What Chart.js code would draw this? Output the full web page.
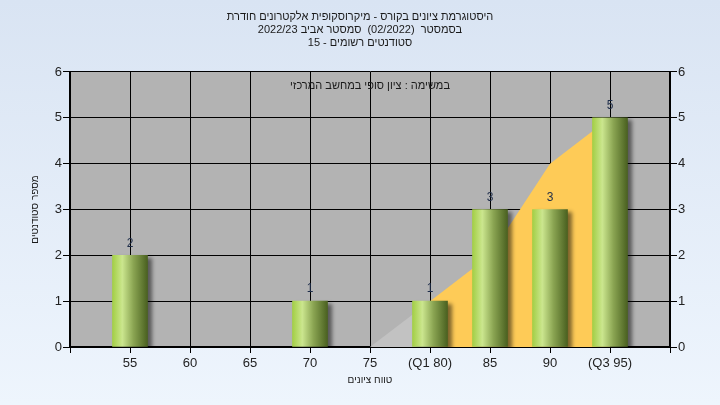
<!DOCTYPE html>
<html>
<head>
<meta charset="utf-8">
<script src="https://cdn.jsdelivr.net/npm/chart.js@4/dist/chart.umd.min.js"></script>
<style>
  html, body { margin: 0; padding: 0; background: #e6eef8; }
  #wrap { width: 720px; height: 405px; position: relative; }
</style>
</head>
<body>
<div id="wrap"><canvas id="c" width="720" height="405"></canvas></div>
<script>
// ---- data ----
const categories = ['', '55', '60', '65', '70', '75', '(Q1 80)', '85', '90', '(Q3 95)', ''];
const studentCounts = [null, 2, 0, 0, 1, 0, 1, 3, 3, 5, null];
const areaBeforeQ1 = [null, null, null, null, null, 0, 1, null, null, null, null];
const areaQ1toQ3 = [null, null, null, null, null, null, 1, 2, 4, 5, null];
const yTicks = [0, 1, 2, 3, 4, 5, 6];
const titleLines = [
  'היסטוגרמת ציונים בקורס - מיקרוסקופית אלקטרונים חודרת',
  'בסמסטר  (02/2022)  סמסטר אביב 2022/23',
  'סטודנטים רשומים - 15'
];
const plotNote = 'במשימה : ציון סופי במחשב המרכזי';
const xTitle = 'טווח ציונים';
const yTitle = 'מספר סטודנטים';

const FONT = '"Liberation Sans", Arial, sans-serif';
const BAR_W = 35;

const bgPlugin = {
  id: 'bg',
  beforeDraw(chart) {
    const { ctx, width, height, chartArea: a } = chart;
    ctx.save();
    const g = ctx.createLinearGradient(0, 0, 0, height);
    g.addColorStop(0, '#d9e4f3');
    g.addColorStop(1, '#eef5fd');
    ctx.fillStyle = g;
    ctx.fillRect(0, 0, width, height);
    ctx.fillStyle = '#b3b3b3';
    ctx.fillRect(a.left, a.top, a.right - a.left, a.bottom - a.top);
    ctx.restore();
  }
};

const shadowPlugin = {
  id: 'barShadow',
  beforeDatasetDraw(chart, args) {
    if (args.meta.type !== 'bar') return;
    const ctx = chart.ctx;
    ctx.save();
    ctx.shadowColor = 'rgba(0,0,0,0.5)';
    ctx.shadowBlur = 4;
    ctx.shadowOffsetX = 4;
    ctx.shadowOffsetY = 3;
  },
  afterDatasetDraw(chart, args) {
    if (args.meta.type !== 'bar') return;
    chart.ctx.restore();
  }
};

const labelPlugin = {
  id: 'labels',
  afterDatasetsDraw(chart) {
    const { ctx, chartArea: a } = chart;
    ctx.save();
    const meta = chart.getDatasetMeta(0);
    ctx.font = '12px ' + FONT;
    ctx.fillStyle = '#1e2d4a';
    ctx.textAlign = 'center';
    ctx.textBaseline = 'middle';
    meta.data.forEach((el, i) => {
      const v = studentCounts[i];
      if (v) ctx.fillText(String(v), el.x, el.y - 12);
    });
    ctx.font = '11px ' + FONT;
    ctx.fillStyle = '#1a1a1a';
    ctx.fillText(plotNote, (a.left + a.right) / 2, a.top + 14);
    ctx.restore();
  }
};

const barGradient = (c) => {
  const chart = c.chart;
  if (c.type === 'data' && !studentCounts[c.dataIndex]) return 'rgba(0,0,0,0)';
  if (!chart.chartArea || c.type !== 'data') return '#9cc24a';
  const x = chart.scales.x.getPixelForValue(c.dataIndex);
  const g = chart.ctx.createLinearGradient(x - BAR_W / 2, 0, x + BAR_W / 2, 0);
  g.addColorStop(0, '#a3cf46');
  g.addColorStop(0.28, '#cbe68e');
  g.addColorStop(0.6, '#8aa452');
  g.addColorStop(1, '#4a6120');
  return g;
};

new Chart(document.getElementById('c'), {
  type: 'bar',
  data: {
    labels: categories,
    datasets: [
      {
        type: 'bar',
        data: studentCounts,
        backgroundColor: barGradient,
        borderWidth: 0,
        barThickness: BAR_W,
        order: 0
      },
      {
        type: 'line',
        data: areaQ1toQ3,
        borderWidth: 0,
        borderColor: 'rgba(0,0,0,0)',
        backgroundColor: '#fecb57',
        fill: 'origin',
        pointRadius: 0,
        tension: 0,
        order: 2
      },
      {
        type: 'line',
        data: areaBeforeQ1,
        borderWidth: 0,
        borderColor: 'rgba(0,0,0,0)',
        backgroundColor: '#c2c2c2',
        fill: 'origin',
        pointRadius: 0,
        tension: 0,
        order: 1
      }
    ]
  },
  options: {
    responsive: false,
    animation: false,
    devicePixelRatio: 1,
    layout: { padding: 0 },
    plugins: {
      legend: { display: false },
      tooltip: { enabled: false },
      title: {
        display: true,
        text: titleLines,
        color: '#1a1a1a',
        font: { family: FONT, size: 11, weight: 'normal', lineHeight: 1.18 },
        padding: { top: 10.5, bottom: 22.5 }
      }
    },
    scales: {
      x: {
        type: 'category',
        offset: false,
        grid: { offset: false, color: '#000', lineWidth: 1, tickLength: 6, tickColor: '#000' },
        border: { color: '#000', width: 2 },
        ticks: {
          color: '#222',
          font: { family: FONT, size: 13 },
          padding: 3,
          maxRotation: 0,
          autoSkip: false
        },
        title: {
          display: true,
          text: xTitle,
          color: '#1a1a1a',
          font: { family: FONT, size: 10 },
          padding: { top: 0, bottom: 19 }
        },
        afterFit: s => { s.height = 58; }
      },
      y: {
        position: 'left',
        min: 0, max: 6,
        afterBuildTicks: s => { s.ticks = yTicks.map(v => ({ value: v })); },
        grid: { color: '#000', lineWidth: 1, tickLength: 7, tickColor: '#000' },
        border: { color: '#000', width: 2 },
        ticks: { color: '#222', font: { family: FONT, size: 13 }, padding: 1 },
        title: {
          display: true,
          text: yTitle,
          color: '#1a1a1a',
          font: { family: FONT, size: 10 },
          padding: { top: 29, bottom: 0 }
        },
        afterFit: s => { s.width = 70; }
      },
      y2: {
        position: 'right',
        min: 0, max: 6,
        afterBuildTicks: s => { s.ticks = yTicks.map(v => ({ value: v })); },
        grid: { drawOnChartArea: false, color: '#000', tickLength: 7, tickColor: '#000' },
        border: { color: '#000', width: 2 },
        ticks: { color: '#222', font: { family: FONT, size: 13 }, padding: 1 },
        afterFit: s => { s.width = 50; }
      }
    }
  },
  plugins: [bgPlugin, shadowPlugin, labelPlugin]
});
</script>
</body>
</html>
